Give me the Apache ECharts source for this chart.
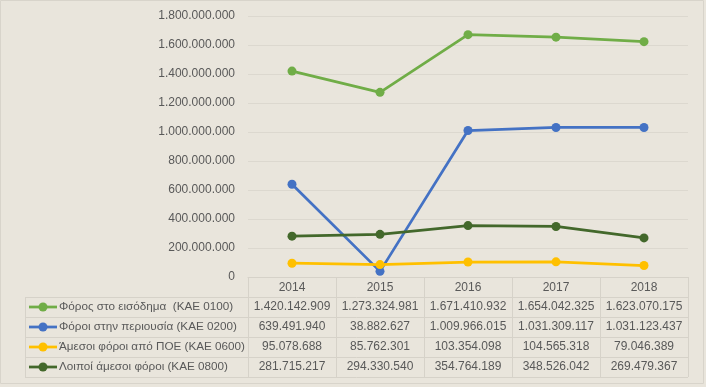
<!DOCTYPE html>
<html><head><meta charset="utf-8">
<script src="https://cdn.jsdelivr.net/npm/echarts@6/dist/echarts.min.js"></script>
<style>html,body{margin:0;padding:0;background:#E9E5DC;}#c{width:706px;height:387px;}</style>
</head><body><div id="c"></div>
<script>
var years = ['2014','2015','2016','2017','2018'];
var seriesNames = ['Φόρος στο εισόδημα  (ΚΑΕ 0100)','Φόροι στην περιουσία (ΚΑΕ 0200)','Άμεσοι φόροι από ΠΟΕ (ΚΑΕ 0600)','Λοιποί άμεσοι φόροι (ΚΑΕ 0800)'];
var incomeTax = [1420142909, 1273324981, 1671410932, 1654042325, 1623070175];
var propertyTax = [639491940, 38882627, 1009966015, 1031309117, 1031123437];
var poeTax = [95078688, 85762301, 103354098, 104565318, 79046389];
var otherTax = [281715217, 294330540, 354764189, 348526042, 269479367];
var colors = ['#70AD47','#4472C4','#FFC000','#43682B'];
var allData = [incomeTax, propertyTax, poeTax, otherTax];

(function(){
function fmt(v){ return String(Math.round(v)).replace(/\B(?=(\d{3})+(?!\d))/g,'.'); }
var FONT = 'Liberation Sans';
var TXT = '#595959';
var chart = echarts.init(document.getElementById('c'));
var option = {
  backgroundColor:'#E9E5DC',
  animation:false,
  grid:{left:248,right:18,top:16,bottom:110},
  xAxis:{type:'category',data:years,boundaryGap:true,
    axisLine:{show:true,lineStyle:{color:'#D6D2C9'}},axisTick:{show:false},
    axisLabel:{color:TXT,fontFamily:FONT,fontSize:12,margin:5},
    splitLine:{show:false}},
  yAxis:{type:'value',min:0,max:1800000000,interval:200000000,
    axisLabel:{color:TXT,fontFamily:FONT,fontSize:12,margin:13,padding:[2,0,0,0],formatter:function(v){return fmt(v);}},
    axisLine:{show:false},axisTick:{show:false},
    splitLine:{lineStyle:{color:'#DCD8CF',width:1}}},
  series: allData.map(function(d,i){
    return {name:seriesNames[i],type:'line',data:d,symbol:'circle',symbolSize:9,
      lineStyle:{color:colors[i],width:2.75},itemStyle:{color:colors[i]},z:2+i};
  })
};
chart.setOption(option);

var xs = years.map(function(y,i){return chart.convertToPixel({xAxisIndex:0},i);});
var cw = xs[1]-xs[0];
var gl = xs[0]-cw/2, gr = xs[xs.length-1]+cw/2;
var y0 = chart.convertToPixel({yAxisIndex:0},0);
var rowH = 20, hdrH = 20;
var tableLeft = 25;
var lineCol = '#D6D2C9';
var g = [];
g.push({type:'rect',shape:{x:0.5,y:0.5,width:703,height:383},style:{fill:null,stroke:'#D8D4CB',lineWidth:1},silent:true});
var tTop = y0 + hdrH;
var tBottom = tTop + rowH*4;
for (var r=0;r<=4;r++){
  var yy = Math.round(tTop + r*rowH)+0.5;
  g.push({type:'line',shape:{x1:tableLeft,y1:yy,x2:gr,y2:yy},style:{stroke:lineCol,lineWidth:1}});
}
var vx = [gl];
for (var i=0;i<years.length;i++) vx.push(xs[i]+cw/2);
vx.forEach(function(x){
  var xx = Math.round(x)+0.5;
  g.push({type:'line',shape:{x1:xx,y1:y0,x2:xx,y2:tBottom},style:{stroke:lineCol,lineWidth:1}});
});
g.push({type:'line',shape:{x1:tableLeft+0.5,y1:tTop,x2:tableLeft+0.5,y2:tBottom},style:{stroke:lineCol,lineWidth:1}});
allData.forEach(function(d,r){
  var cy = tTop + r*rowH + rowH/2;
  g.push({type:'line',shape:{x1:29,y1:cy,x2:57,y2:cy},style:{stroke:colors[r],lineWidth:2.75}});
  g.push({type:'circle',shape:{cx:43,cy:cy,r:4.5},style:{fill:colors[r]}});
  g.push({type:'text',x:59,y:cy,style:{text:seriesNames[r],fill:TXT,font:'11.7px "'+FONT+'"',verticalAlign:'middle',align:'left'}});
  d.forEach(function(v,i){
    g.push({type:'text',x:xs[i],y:cy,style:{text:fmt(v),fill:TXT,font:'12px "'+FONT+'"',verticalAlign:'middle',align:'center'}});
  });
});
chart.setOption({graphic:g});
})();
</script></body></html>
